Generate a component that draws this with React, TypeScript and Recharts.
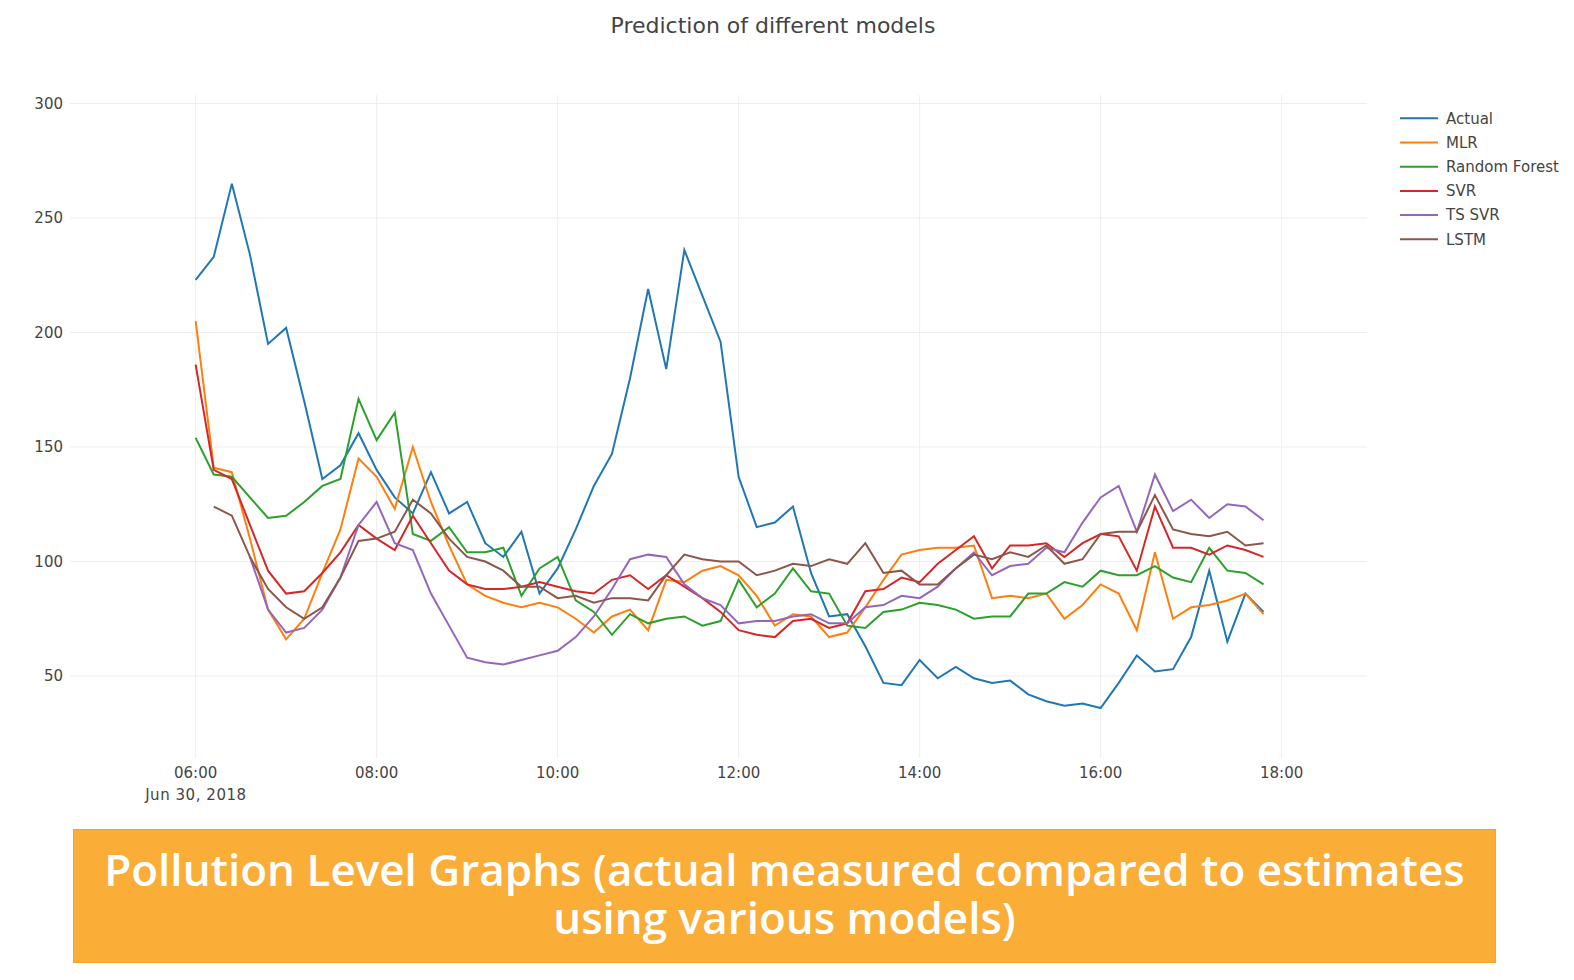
import React from 'react';
import { LineChart, Line, XAxis, YAxis, CartesianGrid } from 'recharts';

// sample times, every 12 minutes on Jun 30, 2018
const timeLabels = [
  '06:00', '06:12', '06:24', '06:36', '06:48', '07:00', '07:12', '07:24', '07:36', '07:48',
  '08:00', '08:12', '08:24', '08:36', '08:48', '09:00', '09:12', '09:24', '09:36', '09:48',
  '10:00', '10:12', '10:24', '10:36', '10:48', '11:00', '11:12', '11:24', '11:36', '11:48',
  '12:00', '12:12', '12:24', '12:36', '12:48', '13:00', '13:12', '13:24', '13:36', '13:48',
  '14:00', '14:12', '14:24', '14:36', '14:48', '15:00', '15:12', '15:24', '15:36', '15:48',
  '16:00', '16:12', '16:24', '16:36', '16:48', '17:00', '17:12', '17:24', '17:36', '17:48',
];

const actual = [
  223, 233, 265, 234, 195, 202, 170, 136, 142, 156, 140, 128, 121, 139, 121, 126, 108, 102, 113, 86,
  97, 114, 133, 147, 180, 219, 184, 236, 216, 196, 137, 115, 117, 124, 95, 76, 77, 63, 47, 46,
  57, 49, 54, 49, 47, 48, 42, 39, 37, 38, 36, 47, 59, 52, 53, 67, 96, 65, 86, 78,
];
const mlr = [
  205, 141, 139, 110, 79, 66, 75, 95, 114, 145, 137, 123, 150, 126, 107, 90, 85, 82, 80, 82,
  80, 75, 69, 76, 79, 70, 92, 91, 96, 98, 94, 85, 72, 77, 76, 67, 69, 80, 92, 103,
  105, 106, 106, 107, 84, 85, 84, 86, 75, 81, 90, 86, 70, 104, 75, 80, 81, 83, 86, 77,
];
const randomForest = [
  154, 138, 137, 128, 119, 120, 126, 133, 136, 171, 153, 165, 112, 109, 115, 104, 104, 106, 85, 97,
  102, 83, 78, 68, 77, 73, 75, 76, 72, 74, 92, 80, 86, 97, 87, 86, 72, 71, 78, 79,
  82, 81, 79, 75, 76, 76, 86, 86, 91, 89, 96, 94, 94, 98, 93, 91, 106, 96, 95, 90,
];
const svr = [
  186, 140, 136, 116, 96, 86, 87, 95, 104, 116, 110, 105, 120, 108, 96, 90, 88, 88, 89, 91,
  89, 87, 86, 92, 94, 88, 94, 89, 84, 78, 70, 68, 67, 74, 75, 71, 73, 87, 88, 93,
  91, 99, 105, 111, 97, 107, 107, 108, 102, 108, 112, 111, 96, 124, 106, 106, 103, 107, 105, 102,
];
const tsSvr = [
  null, null, null, 102, 79, 69, 71, 79, 93, 116, 126, 108, 105, 86, 72, 58, 56, 55, 57, 59,
  61, 67, 76, 88, 101, 103, 102, 90, 84, 81, 73, 74, 74, 76, 77, 73, 73, 80, 81, 85,
  84, 89, 97, 104, 94, 98, 99, 106, 104, 117, 128, 133, 113, 138, 122, 127, 119, 125, 124, 118,
];
const lstm = [
  null, 124, 120, 102, 88, 80, 75, 80, 93, 109, 110, 113, 127, 121, 110, 102, 100, 96, 89, 89,
  84, 85, 82, 84, 84, 83, 94, 103, 101, 100, 100, 94, 96, 99, 98, 101, 99, 108, 95, 96,
  90, 90, 97, 103, 101, 104, 102, 107, 99, 101, 112, 113, 113, 129, 114, 112, 111, 113, 107, 108,
];

const xTickLabels = ['06:00', '08:00', '10:00', '12:00', '14:00', '16:00', '18:00'];
const yTicks = [50, 100, 150, 200, 250, 300];

const series = [
  { key: 'actual', name: 'Actual', color: '#1f77b4', values: actual },
  { key: 'mlr', name: 'MLR', color: '#ff7f0e', values: mlr },
  { key: 'rf', name: 'Random Forest', color: '#2ca02c', values: randomForest },
  { key: 'svr', name: 'SVR', color: '#d62728', values: svr },
  { key: 'tssvr', name: 'TS SVR', color: '#9467bd', values: tsSvr },
  { key: 'lstm', name: 'LSTM', color: '#8c564b', values: lstm },
];

const bannerText = 'Pollution Level Graphs (actual measured compared to estimates\nusing various models)';

// minutes since 06:00
const toMinutes = (s: string) => {
  const [h, m] = s.split(':').map(Number);
  return (h - 6) * 60 + m;
};
const fmtTime = (v: number) => {
  const h = 6 + Math.floor(v / 60);
  const m = v % 60;
  return `${String(h).padStart(2, '0')}:${String(m).padStart(2, '0')}`;
};

const data = timeLabels.map((label, i) => {
  const row: any = { t: toMinutes(label) };
  series.forEach((s) => {
    row[s.key] = s.values[i];
  });
  return row;
});

const FONT = '"DejaVu Sans", Verdana, sans-serif';
const BANNER_FONT = '"Open Sans", Lato, sans-serif';

const TimeTick = ({ x, y, payload }: any) => (
  <text x={x} y={y} textAnchor="middle" fill="#444" fontSize={15} fontFamily={FONT}>
    <tspan x={x} dy={20}>{fmtTime(payload.value)}</tspan>
    {payload.value === 0 && (
      <tspan x={x} dy={22} textLength={101} lengthAdjust="spacing">Jun 30, 2018</tspan>
    )}
  </text>
);

export default function App() {
  return (
    <div style={{ position: 'relative', width: 1574, height: 980, background: '#fff', fontFamily: FONT }}>
      <style>{'body { margin: 0; }'}</style>
      <LineChart
        width={1574}
        height={820}
        data={data}
        margin={{ top: 95, right: 207, left: 0, bottom: 12 }}
      >
        <CartesianGrid stroke="#eee" strokeWidth={1} syncWithTicks />
        <XAxis
          dataKey="t"
          type="number"
          domain={[-83.3, 776.6]}
          ticks={xTickLabels.map(toMinutes)}
          allowDataOverflow
          height={50}
          axisLine={false}
          tickLine={false}
          tickSize={0}
          tickMargin={0}
          tick={<TimeTick />}
        />
        <YAxis
          type="number"
          domain={[14.2, 303.7]}
          ticks={yTicks}
          allowDataOverflow
          width={70}
          axisLine={false}
          tickLine={false}
          tickSize={0}
          tickMargin={7}
          tick={{ fill: '#444', fontSize: 15, fontFamily: FONT }}
        />
        {series.map((s) => (
          <Line
            key={s.key}
            dataKey={s.key}
            name={s.name}
            stroke={s.color}
            strokeWidth={2}
            dot={false}
            activeDot={false}
            type="linear"
            isAnimationActive={false}
          />
        ))}
      </LineChart>

      <svg
        width={1574}
        height={820}
        style={{ position: 'absolute', left: 0, top: 0, pointerEvents: 'none' }}
      >
        <text x={773} y={33} textAnchor="middle" fontSize={22} fill="#444" fontFamily={FONT}>
          Prediction of different models
        </text>

        {series.map((s, i) => (
          <g key={s.key}>
            <line x1={1400} x2={1438} y1={118.3 + i * 24.2} y2={118.3 + i * 24.2} stroke={s.color} strokeWidth={2} />
            <text x={1446} y={118.3 + i * 24.2 + 5.3} fontSize={15} fill="#444" fontFamily={FONT}>
              {s.name}
            </text>
          </g>
        ))}
      </svg>

      <div
        style={{
          position: 'absolute',
          left: 73,
          top: 829,
          width: 1423,
          height: 134,
          boxSizing: 'border-box',
          background: '#FAAD37',
          border: '1px solid #F7A41F',
        }}
      />
      <div
        style={{
          position: 'absolute',
          left: 73,
          top: 845,
          width: 1423,
          textAlign: 'center',
          whiteSpace: 'pre',
          fontFamily: BANNER_FONT,
          fontWeight: 600,
          fontSize: 44,
          lineHeight: '48px',
          color: '#fff',
        }}
      >
        {bannerText}
      </div>
    </div>
  );
}
